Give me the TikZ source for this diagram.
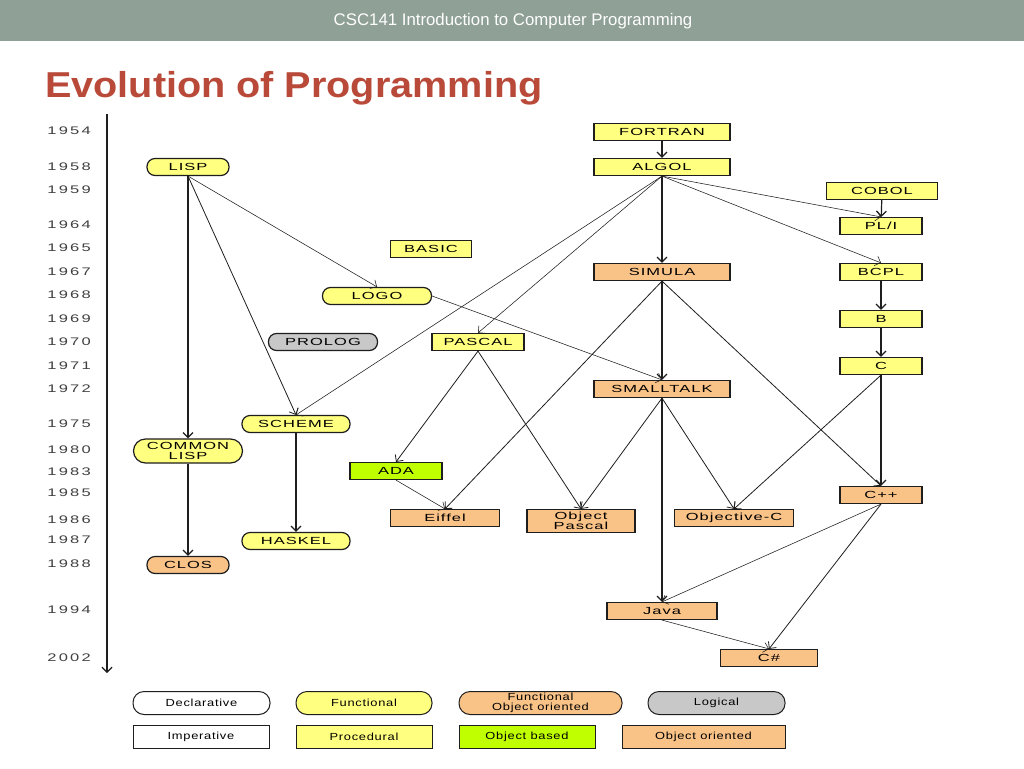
\documentclass[tikz,border=0pt]{standalone}
\usepackage{fontspec}
\setmainfont{Liberation Sans}
\newfontfamily\nodefont[FakeStretch=1.6,LetterSpace=10]{Liberation Sans}
\newfontfamily\legfont[FakeStretch=1.25,LetterSpace=7]{Liberation Sans}
\newfontfamily\yearfont[FakeStretch=1.5,LetterSpace=20]{Liberation Sans}
\newfontfamily\titlefont[FakeStretch=1.1]{Liberation Sans}
\usetikzlibrary{arrows.meta}
\definecolor{hdr}{RGB}{143,160,150}
\definecolor{ttl}{RGB}{185,74,58}
\definecolor{yel}{RGB}{255,255,128}
\definecolor{org}{RGB}{249,194,135}
\definecolor{grn}{RGB}{192,255,0}
\definecolor{gry}{RGB}{200,200,200}
\definecolor{ink}{RGB}{30,30,30}
\tikzset{
  box/.style={draw=ink, line width=1.2pt, inner sep=0pt, align=center, text=black,
    font=\nodefont\fontsize{10.3}{10.5}\selectfont, minimum height=17pt},
  pill/.style={box, rounded corners=8pt},
  legbox/.style={draw=ink, line width=1pt, inner sep=0pt, align=center, text=black,
    font=\legfont\fontsize{10.3}{10.5}\selectfont, minimum height=23pt},
  legpill/.style={legbox, rounded corners=11pt},
  year/.style={anchor=east, inner sep=0pt, text=ink!85, font=\yearfont\fontsize{11}{11}\selectfont},
  thick edge/.style={draw=ink, line width=1.2pt, -{Straight Barb[length=5pt,width=10pt]}},
  mid edge/.style={draw=ink, line width=0.8pt, -{Straight Barb[length=5pt,width=10pt]}},
  thin edge/.style={draw=ink, line width=0.55pt, -{Straight Barb[length=5pt,width=10pt]}},
}
\begin{document}
\begin{tikzpicture}[x=1pt,y=-1pt]
\useasboundingbox (0,0) rectangle (1024,768);
\fill[white] (0,0) rectangle (1024,768);
\fill[hdr] (0,0) rectangle (1024,41);
\node[text=white, font=\fontsize{16.8}{16.8}\selectfont] (hdrtext) at (513,21) {CSC141 Introduction to Computer Programming};
\node[anchor=west, text=ttl, inner sep=0pt, font=\titlefont\bfseries\fontsize{36}{36}\selectfont] (title) at (45,88) {Evolution of Programming};

% timeline
\coordinate (tltop) at (107,114);
\coordinate (tlbot) at (107,673);
\draw[thick edge] (tltop) -- (tlbot);
\node[year] (y1954) at (91,131) {1954};
\node[year] (y1958) at (91,167) {1958};
\node[year] (y1959) at (91,190) {1959};
\node[year] (y1964) at (91,225) {1964};
\node[year] (y1965) at (91,248) {1965};
\node[year] (y1967) at (91,272) {1967};
\node[year] (y1968) at (91,295) {1968};
\node[year] (y1969) at (91,319) {1969};
\node[year] (y1970) at (91,342) {1970};
\node[year] (y1971) at (91,366) {1971};
\node[year] (y1972) at (91,389) {1972};
\node[year] (y1975) at (91,424) {1975};
\node[year] (y1980) at (91,450) {1980};
\node[year] (y1983) at (91,472) {1983};
\node[year] (y1985) at (91,493) {1985};
\node[year] (y1986) at (91,520) {1986};
\node[year] (y1987) at (91,540) {1987};
\node[year] (y1988) at (91,564) {1988};
\node[year] (y1994) at (91,610) {1994};
\node[year] (y2002) at (91,658) {2002};

% boxes
\node[box, fill=yel, minimum width=136pt] (fortran) at (662,132) {FORTRAN};
\node[box, fill=yel, minimum width=136pt] (algol) at (662,167) {ALGOL};
\node[box, fill=yel, minimum width=111pt] (cobol) at (882,191) {COBOL};
\node[box, fill=yel, minimum width=82pt] (pli) at (881,226) {PL/I};
\node[box, fill=yel, minimum width=81pt] (basic) at (431,249) {BASIC};
\node[box, fill=org, minimum width=136pt] (simula) at (662,272) {SIMULA};
\node[box, fill=yel, minimum width=82pt] (bcpl) at (881,272) {BCPL};
\node[box, fill=yel, minimum width=82pt] (b) at (881,319) {B};
\node[box, fill=yel, minimum width=82pt] (c) at (881,366) {C};
\node[box, fill=yel, minimum width=92pt] (pascal) at (478,342) {PASCAL};
\node[box, fill=org, minimum width=136pt] (smalltalk) at (662,389) {SMALLTALK};
\node[box, fill=grn, minimum width=92pt] (ada) at (396,471) {ADA};
\node[box, fill=org, minimum width=109pt] (eiffel) at (445,518) {Eiffel};
\node[box, fill=org, minimum width=108pt, minimum height=23pt] (objpascal) at (581,521) {Object\\Pascal};
\node[box, fill=org, minimum width=119pt] (objc) at (734,518) {Objective-C};
\node[box, fill=org, minimum width=82pt] (cpp) at (881,495) {C++};
\node[box, fill=org, minimum width=110pt] (java) at (662,611) {Java};
\node[box, fill=org, minimum width=97pt] (csharp) at (769,658) {C\#};

% pills
\node[pill, fill=yel, minimum width=82pt] (lisp) at (188,167) {LISP};
\node[pill, fill=yel, minimum width=109pt] (logo) at (377,296) {LOGO};
\node[pill, fill=gry, minimum width=109pt] (prolog) at (323,342) {PROLOG};
\node[pill, fill=yel, minimum width=108pt] (scheme) at (296,424) {SCHEME};
\node[pill, fill=yel, minimum width=109pt, minimum height=24pt, rounded corners=12pt] (commonlisp) at (188,451) {COMMON\\LISP};
\node[pill, fill=yel, minimum width=108pt] (haskel) at (296,541) {HASKEL};
\node[pill, fill=org, minimum width=82pt] (clos) at (188,565) {CLOS};

% edges
\draw[thick edge] (fortran) -- (algol);
\draw[thick edge] (algol.south) -- (simula.north);
\draw[thin edge] (algol.south) -- (pascal.north);
\draw[thin edge] (algol.south) -- (scheme.north);
\draw[thin edge] (algol.south) -- (pli.north);
\draw[thin edge] (algol.south) -- (bcpl.north);
\draw[thick edge] (cobol) -- (pli);
\draw[thick edge] (bcpl) -- (b);
\draw[thick edge] (b) -- (c);
\draw[thick edge] (c.south) -- (cpp.north);
\draw[mid edge] (c.south) -- (objc.north);
\draw[thick edge] (lisp.south) -- (commonlisp.north);
\draw[thick edge] (commonlisp.south) -- (clos.north);
\draw[mid edge] (lisp.south) -- (scheme.north);
\draw[thin edge] (lisp.south) -- (logo.north);
\draw[thin edge] (logo.east) -- (smalltalk.north);
\draw[thick edge] (scheme.south) -- (haskel.north);
\draw[mid edge] (pascal.south) -- (ada.north);
\draw[mid edge] (pascal.south) -- (objpascal.north);
\draw[thick edge] (simula.south) -- (smalltalk.north);
\draw[mid edge] (simula.south) -- (eiffel.north);
\draw[mid edge] (simula.south) -- (cpp.north);
\draw[mid edge] (smalltalk.south) -- (objpascal.north);
\draw[mid edge] (smalltalk.south) -- (objc.north);
\draw[thick edge] (smalltalk.south) -- (java.north);
\draw[thin edge] (ada.south) -- (eiffel.north);
\draw[thin edge] (cpp.south) -- (java.north);
\draw[mid edge] (cpp.south) -- (csharp.north);
\draw[thin edge] (java.south) -- (csharp.north);

% legend
\node[legpill, fill=white, minimum width=137pt] (lgdecl) at (201.5,703) {Declarative};
\node[legpill, fill=yel, minimum width=136pt] (lgfunc) at (364,703) {Functional};
\node[legpill, fill=org, minimum width=163pt] (lgfoo) at (540.5,703) {Functional\\Object oriented};
\node[legpill, fill=gry, minimum width=137pt] (lglog) at (716.5,703) {Logical};
\node[legbox, fill=white, minimum width=136pt] (lgimp) at (201,737) {Imperative};
\node[legbox, fill=yel, minimum width=136pt] (lgproc) at (364,737) {Procedural};
\node[legbox, fill=grn, minimum width=136pt] (lgob) at (527,737) {Object based};
\node[legbox, fill=org, minimum width=163pt] (lgoo) at (703.5,737) {Object oriented};
\end{tikzpicture}
\end{document}
